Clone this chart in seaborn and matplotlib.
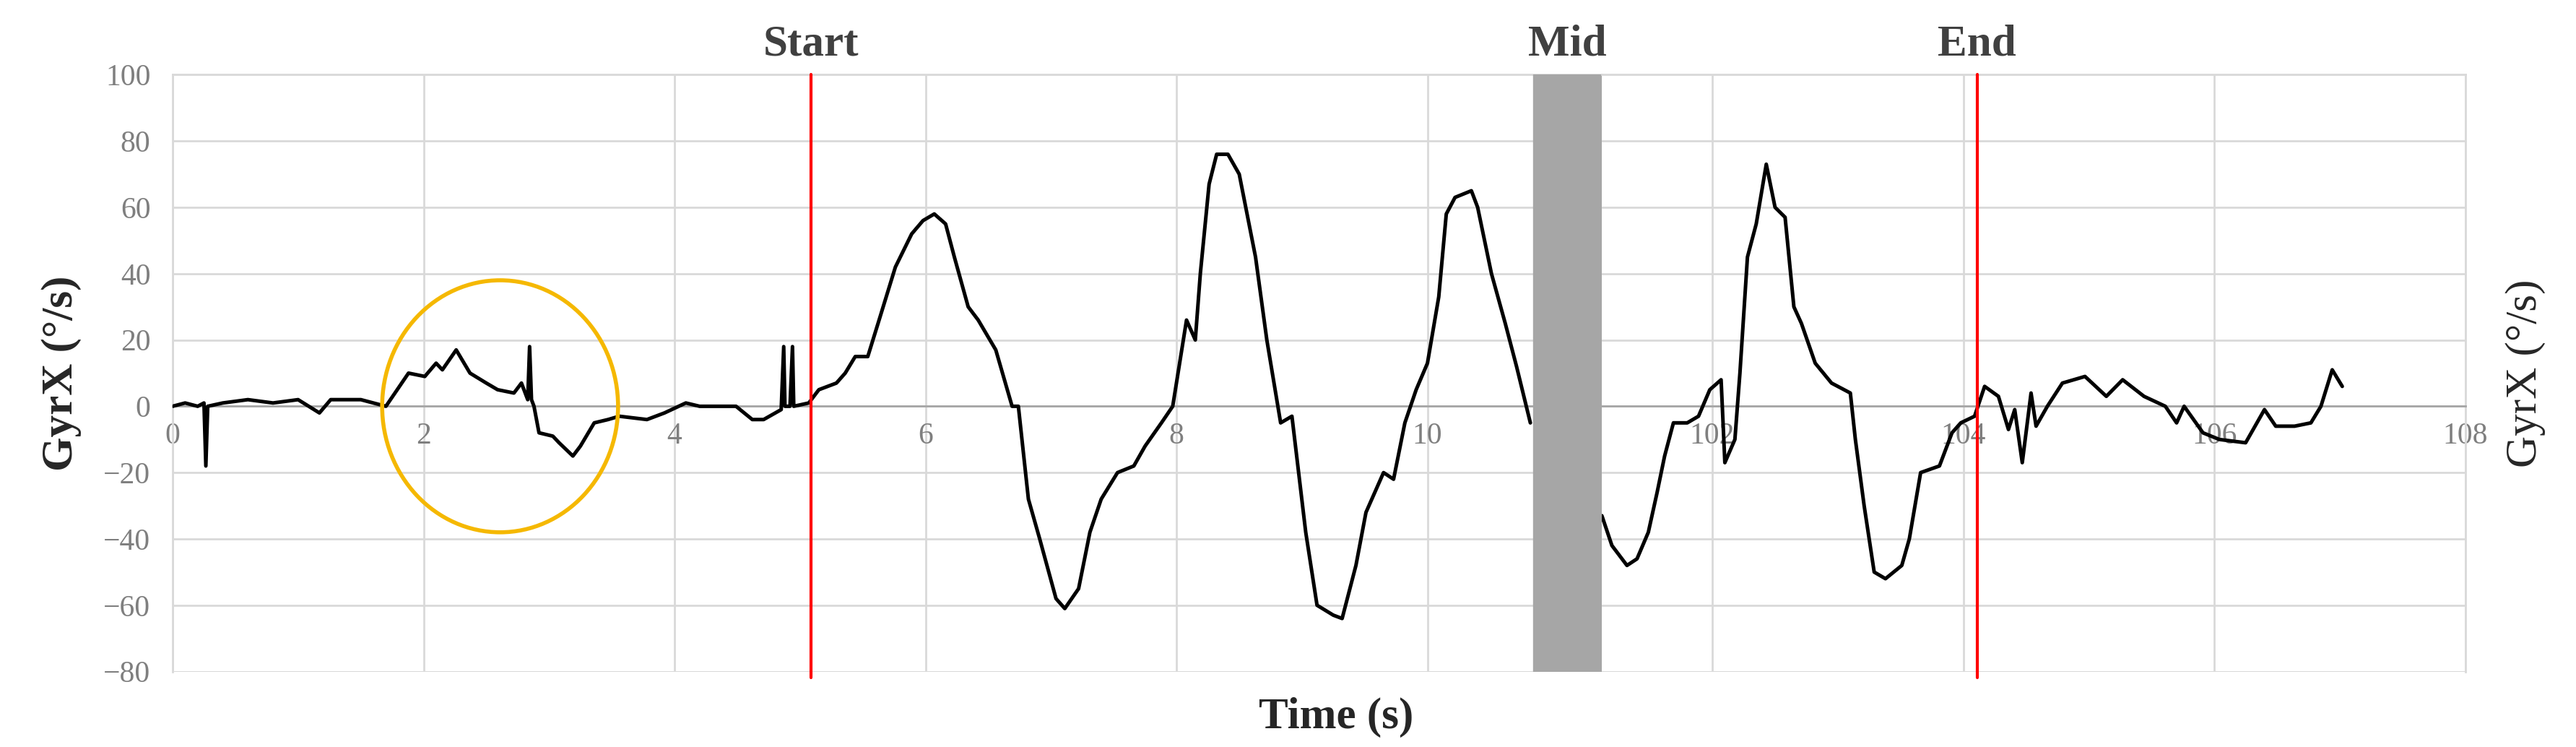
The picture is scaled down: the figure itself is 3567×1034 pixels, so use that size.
import numpy as np
import pandas as pd
import seaborn as sn
import matplotlib.pyplot as plt
from matplotlib.patches import Ellipse

# data (time in s, GyrX in deg/s)
t_first = [0.0, 0.1, 0.2, 0.25, 0.265, 0.28, 0.4, 0.6, 0.8, 1.0, 1.17, 1.26, 1.5, 1.7, 1.88, 2.01, 2.1, 2.15,
           2.26, 2.37, 2.5, 2.59, 2.72, 2.78, 2.83, 2.845, 2.86, 2.88, 2.92, 3.03, 3.08, 3.19, 3.25, 3.36, 3.47,
           3.56, 3.78, 3.92, 4.09, 4.2, 4.49, 4.62, 4.71, 4.85, 4.87, 4.88, 4.92, 4.94, 4.95, 5.07, 5.15, 5.29,
           5.36, 5.44, 5.54, 5.63, 5.76, 5.89, 5.98, 6.07, 6.16, 6.23, 6.34, 6.42, 6.56, 6.69, 6.74, 6.82, 6.91,
           7.04, 7.11, 7.22, 7.31, 7.4, 7.53, 7.66, 7.75, 7.88, 7.97, 8.08, 8.15, 8.19, 8.26, 8.32, 8.41, 8.5,
           8.63, 8.72, 8.83, 8.92, 9.03, 9.12, 9.25, 9.32, 9.43, 9.51, 9.65, 9.73, 9.82, 9.91, 10.0, 10.09,
           10.15, 10.22, 10.35, 10.4, 10.51, 10.62, 10.71, 10.82]
gyr_first = [0, 1, 0, 1, -18, 0, 1, 2, 1, 2, -2, 2, 2, 0, 10, 9, 13, 11,
             17, 10, 7, 5, 4, 7, 2, 18, 2, 0, -8, -9, -11, -15, -12, -5, -4,
             -3, -4, -2, 1, 0, 0, -4, -4, -1, 18, 0, 0, 18, 0, 1, 5, 7,
             10, 15, 15, 26, 42, 52, 56, 58, 55, 45, 30, 26, 17, 0, 0, -28, -40,
             -58, -61, -55, -38, -28, -20, -18, -12, -5, 0, 26, 20, 40, 67, 76, 76, 70,
             45, 20, -5, -3, -38, -60, -63, -64, -48, -32, -20, -22, -5, 5, 13, 33,
             58, 63, 65, 60, 40, 25, 12, -5]

t_second = [101.12, 101.2, 101.32, 101.4, 101.49, 101.56, 101.62, 101.69, 101.8, 101.89, 101.98, 102.07, 102.1,
            102.18, 102.22, 102.28, 102.35, 102.43, 102.5, 102.58, 102.65, 102.71, 102.82, 102.95, 103.1,
            103.14, 103.21, 103.29, 103.38, 103.51, 103.57, 103.66, 103.81, 103.91, 103.98, 104.09, 104.17,
            104.28, 104.36, 104.41, 104.47, 104.54, 104.58, 104.67, 104.79, 104.97, 105.14, 105.27, 105.44,
            105.61, 105.7, 105.76, 105.91, 106.04, 106.25, 106.4, 106.49, 106.64, 106.77, 106.85, 106.94, 107.02]
gyr_second = [-33, -42, -48, -46, -38, -26, -15, -5, -5, -3, 5, 8, -17,
              -10, 10, 45, 55, 73, 60, 57, 30, 25, 13, 7, 4,
              -10, -30, -50, -52, -48, -40, -20, -18, -8, -5, -3, 6,
              3, -7, -1, -17, 4, -6, 0, 7, 9, 3, 8, 3,
              0, -5, 0, -8, -10, -11, -1, -6, -6, -5, 0, 11, 6]

left_ticks = [0, 2, 4, 6, 8, 10]
right_ticks = [102, 104, 106, 108]
y_ticks = [-80, -60, -40, -20, 0, 20, 40, 60, 80, 100]
t_start, t_end = 5.09, 104.11
gap = (10.84, 11.39)
right_from = 101.12

sn.set_style('white')
plt.rcParams['font.family'] = ['Liberation Serif', 'DejaVu Serif']

fig = plt.figure(figsize=(35.67, 10.34), dpi=100)
w1 = gap[1] - 0
w2 = 108 - right_from
L, R, B, T = 0.067, 0.957, 0.101, 0.90
W = R - L
ax1 = fig.add_axes([L, B, W * w1 / (w1 + w2), T - B])
ax2 = fig.add_axes([L + W * w1 / (w1 + w2), B, W * w2 / (w1 + w2), T - B])

df1 = pd.DataFrame({'t': t_first, 'g': gyr_first})
df2 = pd.DataFrame({'t': t_second, 'g': gyr_second})
sn.lineplot(data=df1, x='t', y='g', ax=ax1, color='black', lw=3.6, zorder=3)
sn.lineplot(data=df2, x='t', y='g', ax=ax2, color='black', lw=3.6, zorder=3)

gridc = '#d9d9d9'
for ax, lo, hi, ticks in [(ax1, 0, gap[1], left_ticks), (ax2, right_from, 108, right_ticks)]:
    ax.set_xlim(lo, hi)
    ax.set_ylim(-80, 100)
    ax.set_xticks(ticks)
    ax.set_yticks(y_ticks)
    ax.grid(True, color=gridc, lw=2)
    ax.set_xlabel('')
    ax.set_ylabel('')
    for s in ax.spines.values():
        s.set_color(gridc)
        s.set_linewidth(2)
    ax.spines['bottom'].set_position(('data', 0))
    ax.spines['bottom'].set_color('#a6a6a6')
    ax.tick_params(length=0, labelsize=30, labelcolor='#7f7f7f', pad=16)
    ax.axhline(-80, color=gridc, lw=2, zorder=1)

ax1.spines['right'].set_visible(False)
ax2.spines['left'].set_visible(False)
ax2.set_yticklabels([])
ax1.set_yticklabels(['\u221280', '\u221260', '\u221240', '\u221220', '0', '20', '40', '60', '80', '100'])
ax1.tick_params(axis='y', pad=22)

ax1.axvspan(gap[0], gap[1], color='#a6a6a6', zorder=4)
ax1.axvline(t_start, ymin=-0.01, ymax=1, color='red', lw=3, zorder=5, clip_on=False)
ax2.axvline(t_end, ymin=-0.01, ymax=1, color='red', lw=3, zorder=5, clip_on=False)
ax1.add_patch(Ellipse((2.61, 0), 1.88, 76, fill=False, ec='#f5b800', lw=4, zorder=4))

txtc = '#404040'
ax1.text(t_start, 103, 'Start', ha='center', va='bottom', fontsize=44, fontweight='bold', color=txtc)
ax1.text(sum(gap) / 2, 103, 'Mid', ha='center', va='bottom', fontsize=44, fontweight='bold', color=txtc)
ax2.text(t_end, 103, 'End', ha='center', va='bottom', fontsize=44, fontweight='bold', color=txtc)

ax1.set_ylabel('GyrX (\u00b0/s)', fontsize=44, fontweight='bold', labelpad=22)
ax2.yaxis.set_label_position('right')
ax2.set_ylabel('GyrX (\u00b0/s)', fontsize=44, labelpad=40)
fig.text((1200 + 850 / 1.307) / 3567, 0.025, 'Time (s)', ha='center', fontsize=44, fontweight='bold')

plt.savefig('out.png', dpi=100)
